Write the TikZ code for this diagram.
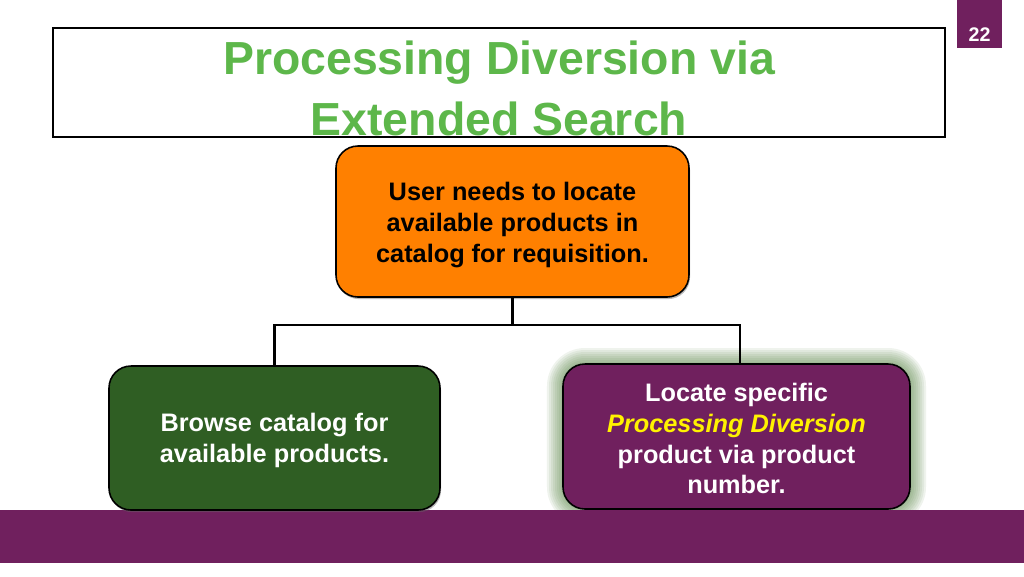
\documentclass[tikz,border=0pt]{standalone}
\usepackage{fontspec}
\setmainfont{Liberation Sans}
\usetikzlibrary{positioning,shadows}

\definecolor{plum}{RGB}{112,32,94}
\definecolor{leaf}{RGB}{93,183,74}
\definecolor{tangerine}{RGB}{255,128,0}
\definecolor{forest}{RGB}{47,94,35}
\definecolor{halo}{RGB}{80,130,60}

\begin{document}
\begin{tikzpicture}[
    box/.style={draw, line width=0.45pt, rounded corners=0.22cm, inner sep=0pt},
    words/.style={align=center, inner sep=0pt, font=\fontsize{7.2}{8.8}\selectfont\bfseries},
    shade/.style={drop shadow={shadow xshift=0.3pt, shadow yshift=-0.6pt, opacity=0.45, fill=black!60}},
    link/.style={line width=0.6pt}
]
\useasboundingbox (0,0) rectangle (10.24,-5.76);
\fill[white] (0,0) rectangle (10.24,-5.76);

% glow behind the purple box
\foreach \g in {1,...,8}
    \fill[halo, opacity=0.09, rounded corners=0.22cm+\g*0.02cm]
        (5.63-\g*0.02,-3.64+\g*0.02) rectangle (9.10+\g*0.02,-5.09-\g*0.02);

% slide furniture
\fill[plum] (0,-5.10) rectangle (10.24,-5.63);
\fill[plum] (9.57,0) rectangle (10.02,-0.48);
\node[text=white, font=\fontsize{5.6}{6.5}\selectfont\bfseries] (page) at (9.795,-0.35) {22};
\draw[line width=0.6pt] (0.53,-0.28) rectangle (9.45,-1.37);
\node[text=leaf, align=center, font=\fontsize{13.2}{17.3}\selectfont\bfseries] (title) at (4.99,-0.88)
    {Processing Diversion via\\Extended Search};

\node[box, shade, fill=tangerine, minimum width=3.53cm, minimum height=1.51cm] (need) at (5.125,-2.215) {};
\node[words] (needtext) at ([yshift=-0.035cm]need.center)
    {User needs to locate\\available products in\\catalog for requisition.};
\node[box, shade, fill=forest, minimum width=3.31cm, minimum height=1.44cm] (browse) at (2.745,-4.38) {};
\node[words, text=white] (browsetext) at ([yshift=-0.02cm]browse.center)
    {Browse catalog for\\available products.};
\node[box, fill=plum, minimum width=3.47cm, minimum height=1.45cm] (locate) at (7.365,-4.365) {};
\node[words, text=white] (locatetext) at ([yshift=-0.02cm]locate.center)
    {Locate specific\\\textcolor{yellow}{\itshape Processing Diversion}\\product via product\\number.};

\draw[link] (need.south) -- ++(0,-0.27) -| (browse.north);
\draw[link] (need.south) -- ++(0,-0.27) -| ([xshift=0.035cm]locate.north);
\end{tikzpicture}
\end{document}
